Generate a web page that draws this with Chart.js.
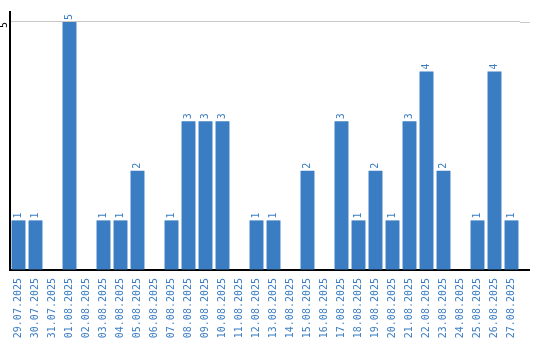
<!DOCTYPE html>
<html>
<head>
<meta charset="utf-8">
<script src="https://cdn.jsdelivr.net/npm/chart.js@4/dist/chart.umd.min.js"></script>
<style>
html,body{margin:0;padding:0;background:#fff;}
#wrap{width:540px;height:340px;}
</style>
</head>
<body>
<div id="wrap"><canvas id="c" width="540" height="340"></canvas></div>
<script>
const categories = ["29.07.2025","30.07.2025","31.07.2025","01.08.2025","02.08.2025","03.08.2025","04.08.2025","05.08.2025","06.08.2025","07.08.2025","08.08.2025","09.08.2025","10.08.2025","11.08.2025","12.08.2025","13.08.2025","14.08.2025","15.08.2025","16.08.2025","17.08.2025","18.08.2025","19.08.2025","20.08.2025","21.08.2025","22.08.2025","23.08.2025","24.08.2025","25.08.2025","26.08.2025","27.08.2025"];
const counts = [1,1,0,5,0,1,1,2,0,1,3,3,3,0,1,1,0,2,0,3,1,2,1,3,4,2,0,1,4,1];
const yTicks = [5];

const BLUE = '#3b7dc3';
const FONT = {family: '"DejaVu Sans Mono", monospace', size: 10};

const valueLabels = {
  id: 'valueLabels',
  afterDatasetsDraw(chart) {
    const ctx = chart.ctx;
    const meta = chart.getDatasetMeta(0);
    ctx.save();
    ctx.font = FONT.size + 'px ' + FONT.family;
    ctx.fillStyle = BLUE;
    ctx.textAlign = 'left';
    ctx.textBaseline = 'middle';
    meta.data.forEach((bar, i) => {
      const v = counts[i];
      if (!v) return;
      ctx.save();
      ctx.translate(bar.x, bar.y - 2);
      ctx.rotate(-Math.PI / 2);
      ctx.fillText(String(v), 0, 0);
      ctx.restore();
    });
    ctx.restore();
  }
};

const axisExtend = {
  id: 'axisExtend',
  afterDraw(chart) {
    const {ctx, chartArea} = chart;
    const y = chart.scales.y;
    ctx.save();
    ctx.strokeStyle = '#c8c8c8';
    ctx.lineWidth = 1;
    yTicks.forEach(t => {
      const py = Math.round(y.getPixelForValue(t)) + 0.5;
      ctx.beginPath();
      ctx.moveTo(chartArea.right, py);
      ctx.lineTo(chartArea.right + 10, py);
      ctx.stroke();
    });
    ctx.strokeStyle = '#000';
    ctx.lineWidth = 2;
    ctx.beginPath();
    ctx.moveTo(chartArea.right - 1, chartArea.bottom);
    ctx.lineTo(chartArea.right + 10, chartArea.bottom);
    ctx.stroke();
    ctx.restore();
  }
};

new Chart(document.getElementById('c'), {
  type: 'bar',
  data: {
    labels: categories,
    datasets: [{
      data: counts,
      backgroundColor: BLUE,
      borderWidth: 0,
      barPercentage: 0.82,
      categoryPercentage: 1.0
    }]
  },
  options: {
    responsive: false,
    animation: false,
    layout: {padding: {top: 10, right: 20, bottom: 0, left: 0}},
    plugins: {legend: {display: false}, tooltip: {enabled: false}},
    scales: {
      x: {
        grid: {display: false, drawTicks: false},
        border: {display: true, color: '#000', width: 2},
        ticks: {
          color: BLUE, font: FONT, minRotation: 90, maxRotation: 90,
          autoSkip: false, padding: 8
        },
        afterFit(scale) { scale.height = 70; }
      },
      y: {
        min: 0, max: 5.2,
        grid: {
          drawTicks: false,
          color: (c) => (c.tick && yTicks.includes(c.tick.value)) ? '#c8c8c8' : 'rgba(0,0,0,0)'
        },
        border: {display: true, color: '#000', width: 2},
        ticks: {
          stepSize: 5, includeBounds: false,
          color: '#000', font: FONT, minRotation: 90, maxRotation: 90, padding: 6,
          callback: (v) => yTicks.includes(v) ? String(v) : ''
        },
        afterFit(scale) { scale.width = 10; }
      }
    }
  },
  plugins: [valueLabels, axisExtend]
});
</script>
</body>
</html>
